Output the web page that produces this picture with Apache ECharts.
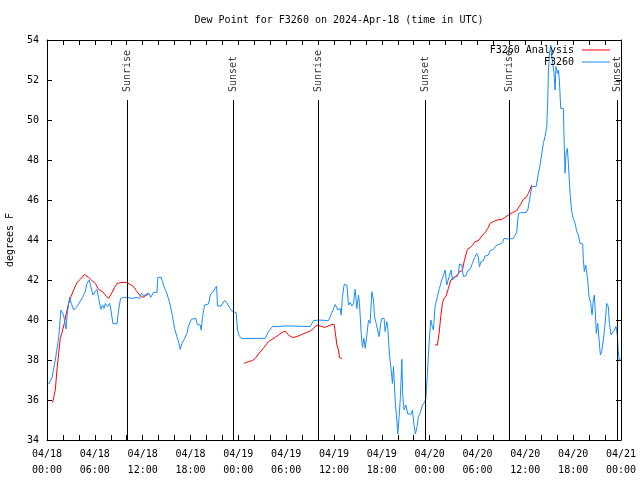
<!DOCTYPE html>
<html>
<head>
<meta charset="utf-8">
<script src="https://cdn.jsdelivr.net/npm/echarts@6/dist/echarts.min.js"></script>
<style>html,body{margin:0;padding:0;background:#fff;}#c{width:640px;height:480px;}</style>
</head>
<body>
<div id="c"></div>
<script>
// Time in hours since 2024-04-18 00:00 UTC
var blueHours = [0.2,0.63,1.04,1.46,1.75,2.08,2.38,2.55,2.84,3.05,3.34,3.76,4.39,4.8,5.0,5.3,5.5,5.77,6.05,6.27,6.47,6.77,6.97,7.15,7.31,7.6,7.85,8.02,8.27,8.78,8.98,9.23,9.6,10.03,10.66,11.28,11.6,11.82,12.1,12.5,12.8,13.0,13.37,13.8,13.9,14.33,14.6,15.04,15.46,15.75,16.0,16.3,16.5,16.71,16.93,17.21,17.55,17.75,18.09,18.68,18.84,19.22,19.34,19.51,19.76,20.26,20.48,20.76,21.1,21.27,21.39,21.85,22.27,22.57,22.9,23.27,23.73,23.9,24.11,24.45,27.37,27.78,28.29,29.04,29.66,30.5,33.0,33.43,34.06,35.31,35.73,36.15,36.48,36.77,36.9,37.06,37.28,37.61,37.82,38.03,38.24,38.45,38.65,38.87,39.07,39.2,39.41,39.57,39.75,39.91,40.12,40.33,40.53,40.75,40.95,41.08,41.29,41.5,41.66,41.87,42.0,42.29,42.41,42.63,42.75,42.96,43.17,43.33,43.46,43.67,43.88,44.0,44.17,44.33,44.51,44.63,44.8,45.01,45.26,45.67,45.84,46.01,46.21,46.43,46.59,46.8,47.09,47.34,47.52,47.72,47.93,48.14,48.34,48.47,48.68,48.97,49.22,49.52,49.81,49.94,50.15,50.44,50.69,50.86,51.19,51.61,51.74,52.03,52.23,52.53,52.78,53.07,53.36,53.61,53.91,54.11,54.24,54.45,54.74,54.95,55.37,55.58,55.99,56.42,56.83,57.12,57.33,57.87,58.5,58.71,58.92,59.13,59.43,60.09,60.31,60.6,60.81,61.35,61.64,61.85,62.06,62.26,62.47,62.69,62.81,62.89,63.01,63.19,63.31,63.44,63.6,63.73,63.85,64.02,64.15,64.27,64.44,64.77,64.86,64.98,65.11,65.27,65.4,65.61,65.82,66.02,66.24,66.45,66.65,66.86,67.2,67.27,67.4,67.57,67.7,67.82,67.99,68.2,68.37,68.53,68.66,68.74,68.9,69.08,69.29,69.41,69.58,69.79,70.0,70.21,70.41,70.54,70.75,70.96,71.16,71.37,71.54,71.66,71.79,72.0];
var blueValues = [36.8,37.1,38.0,39.1,40.5,40.25,39.55,40.35,41.13,40.83,40.5,40.67,41.08,41.42,41.83,42.0,41.67,41.25,41.42,41.53,41.08,40.53,40.75,40.58,40.83,40.67,40.83,40.5,39.83,39.8,40.5,41.08,41.13,41.13,41.08,41.13,41.08,41.33,41.2,41.3,41.33,41.13,41.38,41.38,42.13,42.13,41.75,41.33,40.75,40.17,39.58,39.17,38.92,38.53,38.83,39.03,39.33,39.7,40.03,40.08,39.78,39.75,39.5,40.13,40.75,40.8,41.25,41.38,41.58,41.7,40.7,40.7,40.97,40.87,40.62,40.42,40.37,39.5,39.2,39.08,39.08,39.42,39.67,39.67,39.7,39.7,39.67,39.97,40.0,39.97,40.37,40.78,40.5,40.58,40.25,41.17,41.78,41.75,40.75,40.87,40.7,40.83,41.53,40.58,41.25,40.83,39.33,38.63,39.08,38.58,39.25,40.0,39.83,41.42,41.0,40.17,39.83,39.83,39.17,39.83,40.08,40.08,39.42,39.92,39.58,38.25,37.5,36.83,37.67,36.0,35.0,34.3,35.17,36.17,38.03,36.17,35.5,35.75,35.3,35.3,35.5,34.83,34.3,34.67,35.17,35.33,35.75,35.87,36.08,37.33,38.83,40.0,39.67,39.5,40.67,41.17,41.58,42.0,42.33,42.5,41.75,42.17,42.5,42.0,42.17,42.33,42.8,42.75,42.17,42.2,42.47,42.53,42.83,43.12,43.33,43.13,42.67,42.92,42.97,43.2,43.25,43.47,43.53,43.75,43.8,43.87,44.08,44.05,44.08,44.25,44.37,45.33,45.37,45.37,45.5,46.17,46.67,46.67,47.33,47.75,48.33,48.83,49.17,49.67,51.0,52.33,53.25,53.75,53.17,52.83,52.33,51.5,52.67,52.33,52.5,52.0,50.58,50.58,49.0,47.33,48.33,48.58,47.83,46.33,45.42,45.08,44.83,44.42,44.25,43.83,43.8,43.08,42.42,42.75,42.83,42.0,41.17,40.83,40.25,41.0,41.25,40.67,39.33,39.83,39.92,38.25,38.42,39.0,39.83,40.83,40.67,39.83,39.25,39.33,39.5,39.67,39.25,38.42,38.0,38.0];
// Analysis series (null = gap)
var redHours = [0.7,0.92,1.04,1.25,1.46,1.67,1.88,2.17,2.42,2.71,3.01,3.34,3.76,4.17,4.71,5.22,5.64,6.06,6.47,6.97,7.31,7.72,8.15,8.48,8.78,9.4,9.94,10.44,10.86,11.2,11.61,11.91,12.32,12.74,18,24.74,25.28,25.78,26.12,26.53,26.96,27.37,27.78,28.21,28.62,29.04,29.46,29.88,30.29,30.79,31.34,31.97,32.6,33.01,33.43,33.85,34.27,34.8,35.31,35.73,36.02,36.15,36.36,36.56,36.69,36.99,42,48.68,48.97,49.18,49.39,49.6,49.81,50.06,50.35,50.65,50.98,51.4,51.74,52.1,52.32,52.53,52.74,53.07,53.41,53.7,54.11,54.54,54.95,55.29,55.58,55.99,56.49,57.04,57.46,57.87,58.42,58.92,59.22,59.47,59.75,60.09,60.38,60.6,60.81];
var redValues = [35.87,35.87,36.5,37.5,38.33,39.08,39.37,39.83,40.33,40.83,41.17,41.5,41.87,42.03,42.28,42.13,41.97,41.83,41.53,41.42,41.25,41.08,41.37,41.63,41.83,41.88,41.88,41.78,41.67,41.47,41.25,41.13,41.2,41.3,null,37.83,37.92,37.97,38.08,38.3,38.5,38.7,38.92,39.03,39.13,39.25,39.37,39.45,39.25,39.12,39.17,39.28,39.38,39.45,39.58,39.75,39.7,39.63,39.7,39.78,39.78,39.42,38.75,38.5,38.12,38.08,null,38.75,38.75,39.33,40.17,40.83,41.08,41.2,41.58,42.0,42.13,42.17,42.42,42.47,42.92,43.25,43.53,43.62,43.75,43.92,43.97,44.2,44.37,44.58,44.83,44.92,45.0,45.03,45.13,45.25,45.37,45.47,45.67,45.83,46.03,46.12,46.33,46.53,46.75];
var sunHours = [10.03,23.41,34.07,47.49,58.03,71.57];
var sunLabels = ['Sunrise','Sunset','Sunrise','Sunset','Sunrise','Sunset'];
var sunLineTop = 51;
var yMin = 34, yMax = 54, yStep = 2;
var xMin = 0, xMax = 72, xStep = 2;
var titleText = 'Dew Point for F3260 on 2024-Apr-18 (time in UTC)';
var yName = 'degrees F';
var seriesNames = ['F3260 Analysis', 'F3260'];

var FONT = 'DejaVu Sans Mono';
function pad(n){ return (n < 10 ? '0' : '') + n; }
function xLabel(h){
  if (h % 6 !== 0) return '';
  var day = 18 + Math.floor(h / 24);
  var hh = h % 24;
  return '04/' + pad(day) + '\n' + pad(hh) + ':00';
}
var blueData = blueHours.map(function(h,i){ return [h, blueValues[i]]; });
var redData = redHours.map(function(h,i){ return [h, redValues[i] === null ? '-' : redValues[i]]; });
var sunData = sunHours.map(function(h,i){ return [h, sunLineTop, sunLabels[i]]; });
var sunLines = sunHours.map(function(h){ return [{coord:[h, sunLineTop]}, {coord:[h, yMin]}]; });

var axisCommon = {
  axisLine: {show: true, onZero: false, lineStyle: {color: '#000', width: 1}},
  axisTick: {show: true, inside: true, length: 5, lineStyle: {color: '#000', width: 1}},
  splitLine: {show: false}
};
var chart = echarts.init(document.getElementById('c'), null, {renderer: 'canvas'});
chart.setOption({
  animation: false,
  backgroundColor: '#fff',
  title: {
    text: titleText, left: 334, top: 10, textAlign: 'center',
    textStyle: {fontFamily: FONT, fontSize: 10, fontWeight: 'normal', color: '#000'}
  },
  legend: {
    data: seriesNames, orient: 'vertical', right: 25, top: 40, align: 'right',
    icon: 'rect', itemWidth: 28, itemHeight: 1, itemGap: 2,
    textStyle: {fontFamily: FONT, fontSize: 10, color: '#000', padding: [0, 3, 0, 0]}
  },
  grid: {left: 47, right: 19, top: 40, bottom: 40, containLabel: false, outerBoundsMode: 'none'},
  xAxis: [
    Object.assign({}, axisCommon, {
      type: 'value', min: xMin, max: xMax, interval: xStep, position: 'bottom',
      axisLabel: {formatter: xLabel, fontFamily: FONT, fontSize: 10, color: '#000', lineHeight: 16, margin: 6, showMinLabel: true, showMaxLabel: true}
    }),
    Object.assign({}, axisCommon, {
      type: 'value', min: xMin, max: xMax, interval: xStep, position: 'top',
      axisLabel: {show: false}
    })
  ],
  yAxis: [
    Object.assign({}, axisCommon, {
      type: 'value', min: yMin, max: yMax, interval: yStep, position: 'left',
      name: yName, nameLocation: 'middle', nameGap: 32, nameRotate: 90,
      nameTextStyle: {fontFamily: FONT, fontSize: 10, color: '#000'},
      axisLabel: {fontFamily: FONT, fontSize: 10, color: '#000', margin: 8}
    }),
    Object.assign({}, axisCommon, {
      type: 'value', min: yMin, max: yMax, interval: yStep, position: 'right',
      axisLabel: {show: false}
    })
  ],
  series: [
    {
      name: 'sun', type: 'scatter', data: sunData, symbolSize: 0, silent: true, z: 1,
      label: {
        show: true, position: 'top', distance: 8, rotate: 90, align: 'left', verticalAlign: 'middle',
        formatter: function(p){ return p.value[2]; },
        fontFamily: FONT, fontSize: 10, color: '#000'
      },
      markLine: {
        silent: true, symbol: 'none', label: {show: false},
        lineStyle: {color: '#000', width: 1, type: 'solid'},
        data: sunLines
      }
    },
    {
      name: seriesNames[0], type: 'line', data: redData, showSymbol: false, symbol: 'none',
      connectNulls: false, lineStyle: {color: '#ff0000', width: 1}, itemStyle: {color: '#ff0000'}, z: 2
    },
    {
      name: seriesNames[1], type: 'line', data: blueData, showSymbol: false, symbol: 'none',
      lineStyle: {color: '#1a8cff', width: 1}, itemStyle: {color: '#1a8cff'}, z: 3
    }
  ]
});
</script>
</body>
</html>
